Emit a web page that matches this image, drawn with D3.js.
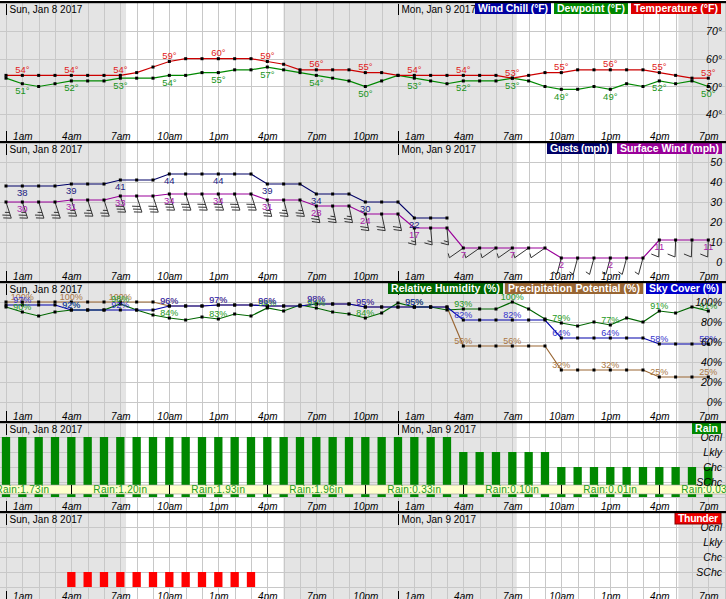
<!DOCTYPE html>
<html><head><meta charset="utf-8">
<script src="https://cdnjs.cloudflare.com/ajax/libs/d3/7.8.5/d3.min.js"></script>
<style>html,body{margin:0;padding:0;background:#fff;overflow:hidden}svg{display:block}</style>
</head><body><svg id="c" width="726" height="599"></svg>
<script>
// ---------------- DATA ----------------
const hours = [0,1,2,3,4,5,6,7,8,9,10,11,12,13,14,15,16,17,18,19,20,21,22,23,24,25,26,27,28,29,30,31,32,33,34,35,36,37,38,39,40,41,42,43];
const timeLabelHours = [1,4,7,10,13,16,19,22,25,28,31,34,37,40,43];
const timeLabels = ["1am","4am","7am","10am","1pm","4pm","7pm","10pm","1am","4am","7am","10am","1pm","4pm","7pm"];
const dayStartHours = [0,24];
const dayLabels = ["Sun, Jan 8 2017","Mon, Jan 9 2017"];
const nights = [[-1,7.35],[16.98,31.27],[41.17,46]];

const temperature = [54,54,54,54,54,54,54,54,55,57,59,60,60,60,60,60,59,58,56,56,56,56,55,55,54,54,54,54,54,54,54,53,54,55,55,56,56,56,56,56,55,54,53,53];
const dewpoint    = [53,51,50,51,52,52,52,53,53,53,54,54,55,55,56,56,57,56,55,54,53,52,50,52,54,53,52,51,52,52,52,53,52,50,49,49,50,49,51,50,52,51,52,50];
const windChill   = [];

const gusts       = [38,38,38,38,39,39,39,41,41,41,44,44,44,44,44,44,39,39,39,34,34,34,30,30,30,22,22,22];
const surfaceWind = [30,30,30,30,31,31,31,33,33,33,34,34,34,34,34,34,31,31,31,28,28,28,24,24,24,17,17,17,7,7,7,7,7,7,2,2,2,2,2,2,11,11,11,11];
const windDir     = [162,162,162,162,162,162,162,162,162,162,162,162,162,162,162,162,165,165,165,168,168,168,168,168,168,175,175,175,235,235,235,235,235,235,195,195,195,195,195,195,182,182,182,182];

const humidity        = [95,90,86,90,92,92,92,98,92,87,84,82,85,83,88,86,94,91,97,94,90,88,84,89,99,95,95,92,93,93,93,100,93,83,79,76,80,77,84,80,91,89,95,91];
const precipPotential = [100,100,100,100,100,100,100,100,100,100,96,96,96,97,97,97,96,96,96,98,98,98,95,95,95,95,95,95,56,56,56,56,56,56,32,32,32,32,32,32,25,25,25,25];
const skyCover        = [97,97,97,97,92,92,92,92,92,92,96,96,96,97,97,97,96,96,96,98,98,98,95,95,95,95,95,95,82,82,82,82,82,82,64,64,64,64,64,64,58,58,58,58];

const chanceCategories = ["","SChc","Chc","Lkly","Ocnl"];
const rainChance = ["Ocnl","Ocnl","Ocnl","Ocnl","Ocnl","Ocnl","Ocnl","Ocnl","Ocnl","Ocnl","Ocnl","Ocnl","Ocnl","Ocnl","Ocnl","Ocnl","Ocnl","Ocnl","Ocnl","Ocnl","Ocnl","Ocnl","Ocnl","Ocnl","Ocnl","Ocnl","Ocnl","Ocnl","Lkly","Lkly","Lkly","Lkly","Lkly","Lkly","Chc","Chc","Chc","Chc","Chc","Chc","Chc","Chc","Chc","Chc"];
const thunderChance = ["","","","","SChc","SChc","SChc","SChc","SChc","SChc","SChc","SChc","SChc","SChc","SChc","SChc","","","","","","","","","","","","","","","","","","","","","","","","","","","",""];
const rainPeriodStart = [-2,4,10,16,22,28,34,40];
const rainTotals = ["Rain:1.73in","Rain:1.20in","Rain:1.93in","Rain:1.96in","Rain:0.33in","Rain:0.10in","Rain:0.01in","Rain:0.03in"];

// ---------------- DRAW ----------------
const W = 726;
const FONT = "'Liberation Sans', Arial, Helvetica, sans-serif";
const svg = d3.select('#c');
const x = d3.scaleLinear().domain([0,43]).range([6,708.3]);
const lvl = c => chanceCategories.indexOf(c);

const panels = [
  {top:2,   h:140, y:d3.scaleLinear().domain([30,80]).range([142.1,3.1]), ticks:[40,50,60,70], fmt:d=>d+'°'},
  {top:142, h:140, y:d3.scaleLinear().domain([0,50]).range([262,162]), ticks:[0,10,20,30,40,50], fmt:d=>String(d)},
  {top:282, h:140, y:d3.scaleLinear().domain([0,100]).range([402,302]), ticks:[0,20,40,60,80,100], fmt:d=>d+'%'},
  {top:422, h:90,  y:d3.scaleLinear().domain([0,4]).range([497,437]), ticks:[1,2,3,4], grid:[0,1,2,3,4], fmt:i=>chanceCategories[i]},
  {top:512, h:90,  y:d3.scaleLinear().domain([0,4]).range([587,527]), ticks:[1,2,3,4], grid:[0,1,2,3,4], fmt:i=>chanceCategories[i]}
];

const defs = svg.append('defs');
panels.forEach((p,i)=>{
  defs.append('clipPath').attr('id','clip'+i).append('rect')
    .attr('x',0).attr('y',p.top).attr('width',W).attr('height',p.h);
  p.g = svg.append('g').attr('clip-path',`url(#clip${i})`);
  p.g.selectAll('rect.night').data(nights).join('rect')
    .attr('x',d=>x(d[0])).attr('width',d=>x(d[1])-x(d[0]))
    .attr('y',p.top).attr('height',p.h).attr('fill','#e4e4e4');
  const gh = d3.range(-1,46);
  p.g.selectAll('line.vg').data(gh).join('line')
    .attr('x1',d=>Math.round(x(d))+0.5).attr('x2',d=>Math.round(x(d))+0.5)
    .attr('y1',p.top).attr('y2',p.top+p.h).attr('stroke','#c8c8c8').attr('stroke-width',1);
  p.g.selectAll('line.hg').data(p.grid||p.ticks).join('line')
    .attr('x1',0).attr('x2',W)
    .attr('y1',d=>Math.round(p.y(d))+0.5).attr('y2',d=>Math.round(p.y(d))+0.5)
    .attr('stroke','#c8c8c8').attr('stroke-width',1);
});

function series(p, data, color, labelColor, labelDy, fmt){
  const line = d3.line().x((d,i)=>x(hours[i])).y(d=>p.y(d));
  p.g.append('path').datum(data).attr('d',line).attr('fill','none')
    .attr('stroke',color).attr('stroke-width',1.2);
  return {p,data,color,labelColor,labelDy,fmt};
}
function points(s){
  s.p.g.selectAll(null).data(s.data).join('rect')
    .attr('x',(d,i)=>x(hours[i])-1.5).attr('y',d=>s.p.y(d)-1.5)
    .attr('width',3).attr('height',3).attr('fill','#000');
}
function labels(s, size){
  s.p.g.selectAll(null).data(s.data.map((d,i)=>[hours[i],d]).filter(d=>d[0]%3===1)).join('text')
    .attr('x',d=>x(d[0])).attr('y',d=>s.p.y(d[1])+s.labelDy)
    .attr('text-anchor','middle').attr('font-family',FONT).attr('font-size',size)
    .attr('fill',s.labelColor).text(d=>s.fmt(d[1]));
}

// Panel 1: temperature
const P1 = panels[0];
const sDew = series(P1, dewpoint, '#008800', '#1a941a', 10.5, d=>d+'°');
const sTemp = series(P1, temperature, '#cc0000', '#e02020', -2.5, d=>d+'°');
points(sDew); points(sTemp);
labels(sDew, 9.5); labels(sTemp, 9.5);

// Panel 2: wind
const P2 = panels[1];
function barb(g, px, py, dir, mph){
  const kt = mph*0.869;
  let r = Math.round(kt/5)*5;
  if (r===0 && kt>0) r = 5;
  const rad = dir*Math.PI/180;
  const dx = Math.sin(rad), dy = -Math.cos(rad);
  const L = 17;
  const ex = px+dx*L, ey = py+dy*L;
  let path = `M${px},${py}L${ex},${ey}`;
  const qx = -dy, qy = dx;
  const bx = qx*0.94-dx*0.34, by = qy*0.94-dy*0.34;
  const n10 = Math.floor(r/10); const n5 = (r%10)>=5?1:0;
  let k = 0; const sp = 3;
  for (let i=0;i<n10;i++,k++){
    const sx = ex-dx*sp*k, sy = ey-dy*sp*k;
    path += `M${sx},${sy}L${sx+bx*8},${sy+by*8}`;
  }
  if (n5){
    const sx = ex-dx*sp*k, sy = ey-dy*sp*k;
    path += `M${sx},${sy}L${sx+bx*4.5},${sy+by*4.5}`;
  }
  g.append('path').attr('d',path).attr('fill','none').attr('stroke','#333').attr('stroke-width',1);
}
const barbG = P2.g.append('g');
surfaceWind.forEach((v,i)=>barb(barbG, x(hours[i]), P2.y(v), windDir[i], v));
const sGust = series(P2, gusts, '#000066', '#202080', 10, d=>String(d));
const sWind = series(P2, surfaceWind, '#990099', '#aa22aa', 10, d=>String(d));
points(sGust); points(sWind);
labels(sGust, 9.5); labels(sWind, 9.5);

// Panel 3: percentages
const P3 = panels[2];
const sPrec = series(P3, precipPotential, '#996633', '#aa7744', -2.5, d=>d+'%');
const sRH = series(P3, humidity, '#006600', '#229922', -2.5, d=>d+'%');
const sSky = series(P3, skyCover, '#0000aa', '#3333cc', -2.5, d=>d+'%');
points(sPrec); points(sRH); points(sSky);
labels(sPrec, 9); labels(sRH, 9); labels(sSky, 9);

// Panel 4: rain
const P4 = panels[3];
P4.g.selectAll(null).data(rainChance.map((c,i)=>[hours[i],lvl(c)]).filter(d=>d[1]>0)).join('rect')
  .attr('x',d=>x(d[0])-4.15).attr('width',8.3)
  .attr('y',d=>P4.y(d[1])).attr('height',d=>P4.y(0)-P4.y(d[1])).attr('fill','#008800');
const bandTop = P4.y(1)+3, bandH = 9;
P4.g.append('rect').attr('x',0).attr('width',W).attr('y',bandTop).attr('height',bandH)
  .attr('fill','#ffffcc');
P4.g.append('line').attr('x1',0).attr('x2',W).attr('y1',bandTop).attr('y2',bandTop).attr('stroke','#999').attr('stroke-width',0.6);
P4.g.append('line').attr('x1',0).attr('x2',W).attr('y1',bandTop+bandH).attr('y2',bandTop+bandH).attr('stroke','#999').attr('stroke-width',0.6);
P4.g.selectAll(null).data(rainPeriodStart).join('line')
  .attr('x1',d=>Math.round(x(d))+0.5).attr('x2',d=>Math.round(x(d))+0.5)
  .attr('y1',bandTop).attr('y2',bandTop+bandH).attr('stroke','#000').attr('stroke-width',1);
P4.g.selectAll(null).data(rainTotals).join('text')
  .attr('x',(d,i)=>x(rainPeriodStart[i]+3)).attr('y',bandTop+bandH-1)
  .attr('text-anchor','middle').attr('font-family',FONT).attr('font-size',10)
  .attr('letter-spacing',0.3).attr('fill','#229922').text(d=>d);

// Panel 5: thunder
const P5 = panels[4];
P5.g.selectAll(null).data(thunderChance.map((c,i)=>[hours[i],lvl(c)]).filter(d=>d[1]>0)).join('rect')
  .attr('x',d=>x(d[0])-4.15).attr('width',8.3)
  .attr('y',d=>P5.y(d[1])).attr('height',d=>P5.y(0)-P5.y(d[1])).attr('fill','#ff0000');

// Axes, day labels
panels.forEach((p,i)=>{
  const ax = p.g.append('g').attr('transform','translate(722,0)')
    .call(d3.axisLeft(p.y).tickValues(p.ticks).tickFormat(p.fmt).tickSize(0).tickPadding(0));
  ax.select('.domain').remove();
  ax.selectAll('text').attr('font-family',FONT).attr('font-size',10.5).attr('font-style','italic')
    .attr('fill','#000').attr('dy','0.35em');
  const base = p.top+p.h-2.5;
  const tx = p.g.append('g').attr('transform',`translate(0,${base})`)
    .call(d3.axisBottom(x).tickValues(timeLabelHours).tickFormat((d,k)=>timeLabels[k]).tickSize(0));
  tx.select('.domain').remove();
  tx.selectAll('text').attr('y',0).attr('dy',0).attr('font-family',FONT).attr('font-size',10)
    .attr('font-style','italic').attr('fill','#000');
  dayStartHours.forEach((h,k)=>{
    const xx = Math.round(x(h))+0.5;
    p.g.append('line').attr('x1',xx).attr('x2',xx).attr('y1',p.top+2).attr('y2',p.top+13).attr('stroke','#000');
    p.g.append('line').attr('x1',xx).attr('x2',xx).attr('y1',p.top+p.h-11).attr('y2',p.top+p.h).attr('stroke','#000');
    p.g.append('text').attr('x',xx+3).attr('y',p.top+10.5).attr('font-family',FONT).attr('font-size',10)
      .attr('fill','#000').text(dayLabels[k]);
  });
});

// Legends
const legends = [
  [0,[["Wind Chill (°F)",475,551,'#0000a0',null],["Dewpoint (°F)",554,628,'#008800',null],["Temperature (°F)",631,721,'#dd0000',null]]],
  [1,[["Gusts (mph)",547,612,'#000066',null],["Surface Wind (mph)",617,722,'#990099',null]]],
  [2,[["Relative Humidity (%)",388,503,'#006600',null],["Precipitation Potential (%)",505,643,'#996633',null],["Sky Cover (%)",646,722,'#0000cc',null]]],
  [3,[["Rain",692,721,'#008800',null]]],
  [4,[["Thunder",675,721,'#ee0000','#880000']]]
];
legends.forEach(([pi,items])=>{
  const p = panels[pi];
  items.forEach(([t,x0,x1,fill,stroke])=>{
    p.g.append('rect').attr('x',x0).attr('y',p.top+0.5).attr('width',x1-x0).attr('height',11.5)
      .attr('fill',fill).attr('stroke',stroke||'none');
    p.g.append('text').attr('x',x0+3).attr('y',p.top+10).attr('font-family',FONT).attr('font-size',10.5)
      .attr('font-weight','bold').attr('fill','#fff')
      .attr('textLength',x1-x0-6).attr('lengthAdjust','spacing').text(t);
  });
});

// panel borders
panels.forEach(p=>{
  svg.append('rect').attr('x',0).attr('y',p.top-1).attr('width',W).attr('height',2.2).attr('fill','#000');
});
</script>
</body></html>
